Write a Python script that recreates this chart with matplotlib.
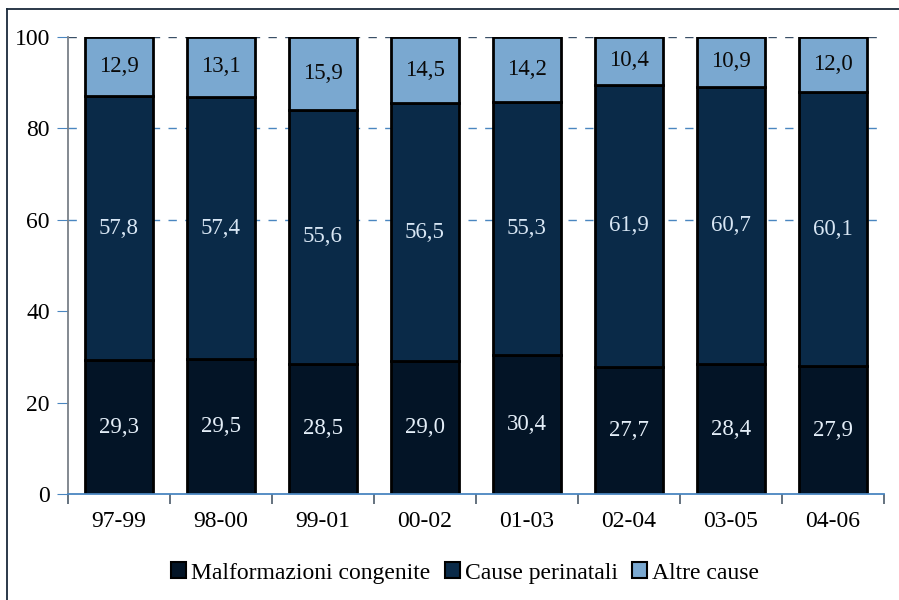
import matplotlib
matplotlib.use("Agg")
import matplotlib.pyplot as plt
from matplotlib.patches import Patch
from matplotlib.lines import Line2D
import numpy as np

categories = ["97-99", "98-00", "99-01", "00-02", "01-03", "02-04", "03-05", "04-06"]
malformazioni = [29.3, 29.5, 28.5, 29.0, 30.4, 27.7, 28.4, 27.9]
perinatali = [57.8, 57.4, 55.6, 56.5, 55.3, 61.9, 60.7, 60.1]
altre = [12.9, 13.1, 15.9, 14.5, 14.2, 10.4, 10.9, 12.0]
series_names = ["Malformazioni congenite", "Cause perinatali", "Altre cause"]
colors = ["#031426", "#0a2a48", "#7aa8d0"]
label_colors = ["#e4eef8", "#d8e6f4", "#0a0a0a"]

plt.rcParams['font.family'] = ['Liberation Serif', 'DejaVu Serif']

fig = plt.figure(figsize=(8.99, 6.0), dpi=100)
ax = fig.add_axes([68/899, 1-494/600, (884-68)/899, (494-37)/600])

x = np.arange(len(categories))
width = 0.667
bottoms = np.zeros(len(categories))
for vals, col, lc in zip([malformazioni, perinatali, altre], colors, label_colors):
    vals = np.array(vals)
    ax.bar(x, vals, width, bottom=bottoms, color=col, edgecolor="black", linewidth=2.0, zorder=3)
    for xi, b, v in zip(x, bottoms, vals):
        ax.text(xi, b + v/2, f"{v:.1f}".replace(".", ","), ha="center", va="center",
                color=lc, fontsize=16.5, zorder=4)
    bottoms = bottoms + vals

ax.set_xlim(-0.5, len(categories) - 0.5)
ax.set_ylim(0, 100)
ax.set_yticks([0, 20, 40, 60, 80, 100])
ax.set_xticks(x)
ax.set_xticklabels(categories, fontsize=17)
ax.tick_params(axis='x', length=0, pad=12)
ax.tick_params(axis='y', labelsize=17, length=8, color="#4a86c0", pad=5, direction="out")
ax.set_xticks(np.arange(-0.5, len(categories)), minor=True)
ax.tick_params(axis='x', which='minor', length=7, color="#4a5a6a", width=1.2)

for yv, c in [(60, "#4a86c0"), (80, "#4a86c0"), (100, "#3a4f66")]:
    ax.axhline(yv, color=c, linestyle=(0, (6, 6)), linewidth=1.0, zorder=1)

for s in ["top", "right"]:
    ax.spines[s].set_visible(False)
ax.spines["left"].set_color("#7a8088")
ax.spines["left"].set_linewidth(1.3)
ax.spines["bottom"].set_color("#4a86c0")
ax.spines["bottom"].set_linewidth(1.3)
ax.spines["bottom"].set_zorder(5)

handles = [Patch(facecolor=c, edgecolor="black", linewidth=1.5) for c in colors]
fig.legend(handles, series_names, loc="center", bbox_to_anchor=(465/899, 1-573/600),
           ncol=3, frameon=False, fontsize=17, handlelength=0.65, handleheight=0.65,
           handletextpad=0.2, columnspacing=0.6)

fig.add_artist(Line2D([7/899, 7/899], [0, 1-9/600], transform=fig.transFigure, color="#1a2a3a", linewidth=1.3))
fig.add_artist(Line2D([7/899, 1], [1-9/600, 1-9/600], transform=fig.transFigure, color="#1a2a3a", linewidth=1.3))

fig.savefig("out.png", dpi=100)
